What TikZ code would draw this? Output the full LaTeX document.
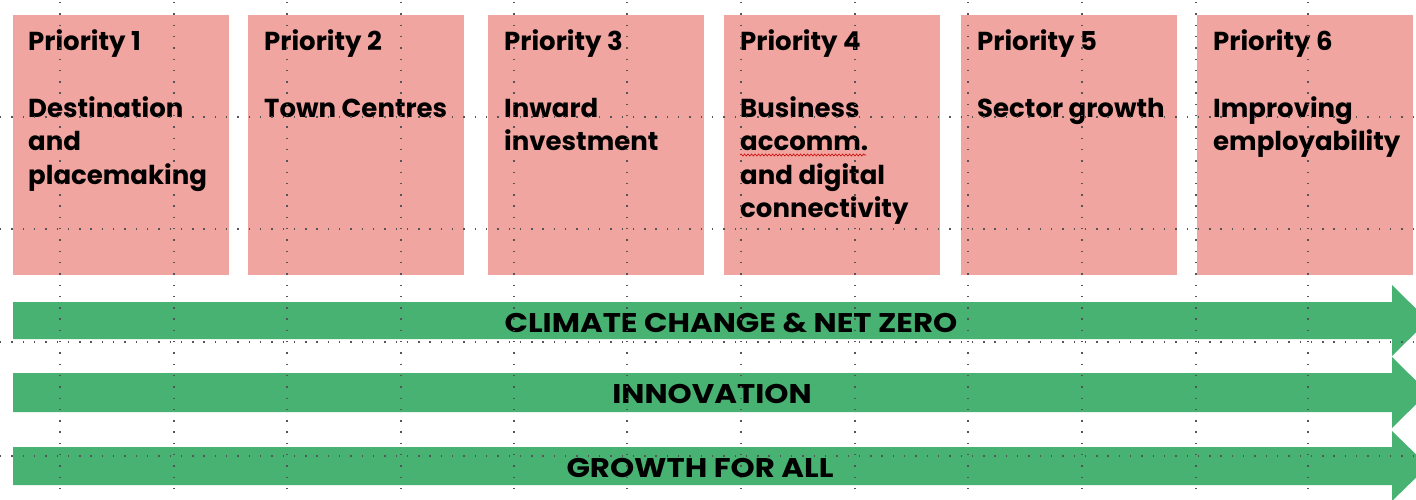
\documentclass[tikz,border=0pt]{standalone}
\usepackage{fontspec}
\setmainfont{Poppins}
\usetikzlibrary{decorations.pathmorphing}
\definecolor{prioritypink}{HTML}{F1A5A0}
\definecolor{bandgreen}{HTML}{48B273}
\definecolor{griddot}{HTML}{555555}
\newcommand{\firstln}{\rule{0pt}{20pt}}
\newcommand{\widecaps}[1]{\scalebox{1.14}[1]{#1}}
\begin{document}
\begin{tikzpicture}[x=1pt,y=-1pt,
  pbox/.style={fill=prioritypink, draw=none, minimum width=216pt, minimum height=260pt, inner sep=0pt, anchor=north west},
  ptext/.style={font=\fontsize{26}{33.5}\selectfont\bfseries, align=left, inner sep=0pt, anchor=north west, text=black},
  atext/.style={font=\fontsize{27}{30}\selectfont\bfseries, inner sep=0pt, anchor=base, text=black},
  band/.style={fill=bandgreen, draw=none},
  gridline/.style={griddot, line width=1.4pt, dash pattern=on 1.4pt off 9.9pt}
]
\useasboundingbox (0,0) rectangle (1416,499);
% priority boxes
\node[pbox] (p1) at (13,15) {};
\node[pbox] (p2) at (248,15) {};
\node[pbox] (p3) at (488,15) {};
\node[pbox] (p4) at (724,15) {};
\node[pbox] (p5) at (961,15) {};
\node[pbox] (p6) at (1197,15) {};
% texts (first baseline at y=49)
\node[ptext] (t1) at (28,29) {\firstln Priority 1\\[33.5pt]Destination\\and\\placemaking};
\node[ptext] (t2) at (264,29) {\firstln Priority 2\\[33.5pt]Town Centres};
\node[ptext] (t3) at (504,29) {\firstln Priority 3\\[33.5pt]Inward\\investment};
\node[ptext] (t4) at (740,29) {\firstln Priority 4\\[33.5pt]Business\\accomm.\\and digital\\connectivity};
\node[ptext] (t5) at (977,29) {\firstln Priority 5\\[33.5pt]Sector growth};
\node[ptext] (t6) at (1213,29) {\firstln Priority 6\\[33.5pt]Improving\\employability};
% spell-check squiggle
\draw[red!80!black, line width=0.6pt, decorate, decoration={snake, amplitude=1pt, segment length=3.5pt}] (740,155) -- (866,155);
% arrows
\fill[band] (13,302) -- (1392,302) -- (1392,285) -- (1428,320.5) -- (1392,356) -- (1392,339) -- (13,339) -- cycle;
\fill[band] (13,373) -- (1392,373) -- (1392,357) -- (1428,392.5) -- (1392,428) -- (1392,412) -- (13,412) -- cycle;
\fill[band] (13,447) -- (1392,447) -- (1392,431) -- (1428,466) -- (1392,501) -- (1392,485) -- (13,485) -- cycle;
\node[atext] (a1) at (731,332) {\widecaps{CLIMATE CHANGE \& NET ZERO}};
\node[atext] (a2) at (712,403) {\widecaps{INNOVATION}};
\node[atext] (a3) at (700,477) {\widecaps{GROWTH FOR ALL}};
% editing grid
\foreach \gx in {60,174,287,401,514,627,741,855,968,1082,1196,1308}
  \draw[gridline] (\gx,2) -- (\gx,499);
\foreach \gy in {117,229,342,456}
  \draw[gridline] (0,\gy) -- (1416,\gy);
\end{tikzpicture}
\end{document}
